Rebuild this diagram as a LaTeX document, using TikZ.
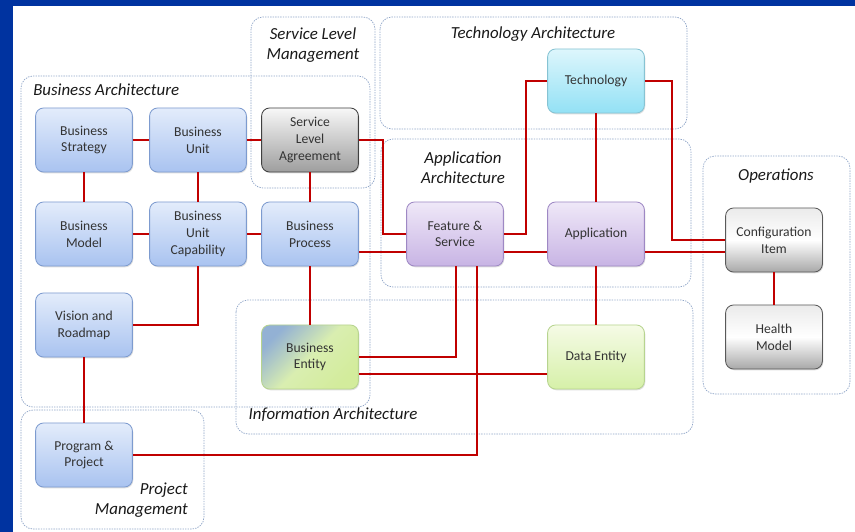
\documentclass[tikz,border=0pt]{standalone}
\usepackage{fontspec}
\setmainfont{Carlito}
\usetikzlibrary{calc,shadows}
\definecolor{slideblue}{HTML}{0033A0}
\definecolor{linkred}{HTML}{C00000}
\definecolor{arealine}{HTML}{8FA5C8}
\definecolor{biztop}{HTML}{E3ECFB}
\definecolor{bizbot}{HTML}{A9C3F0}
\definecolor{bizline}{HTML}{7D9BCF}
\definecolor{apptop}{HTML}{EFE8F8}
\definecolor{appbot}{HTML}{C8B4E4}
\definecolor{appline}{HTML}{9E88C4}
\definecolor{techtop}{HTML}{DDF6FC}
\definecolor{techbot}{HTML}{93E1F5}
\definecolor{techline}{HTML}{86C3D3}
\definecolor{datatop}{HTML}{F5FBE6}
\definecolor{databot}{HTML}{D6F0A8}
\definecolor{dataline}{HTML}{B7D48F}
\definecolor{enttop}{HTML}{93B1D4}
\definecolor{entmid}{HTML}{D9EEB0}
\definecolor{entbot}{HTML}{D3EC9C}
\tikzset{
    box/.style={
    rectangle,rounded corners=0.2cm,minimum width=2.42cm,minimum height=1.6cm,
    inner sep=1pt,align=center,text=black!80,line width=0.6pt,
    font=\fontsize{9.7}{11.9}\selectfont,
    drop shadow={shadow xshift=0.6pt,shadow yshift=-0.9pt,opacity=0.25}
    },
    bizbox/.style={
    box,draw=bizline,top color=biztop,bottom color=bizbot
    },
    slabox/.style={
    box,draw=black!75,top color=black!3,bottom color=black!38
    },
    opsbox/.style={
    box,draw=black!65,top color=black!8,bottom color=black!34,middle color=white
    },
    techbox/.style={
    box,draw=techline,top color=techtop,bottom color=techbot
    },
    appbox/.style={
    box,draw=appline,top color=apptop,bottom color=appbot
    },
    databox/.style={
    box,draw=dataline,top color=datatop,bottom color=databot
    },
    entbox/.style={
    box,draw=dataline,top color=enttop,bottom color=entbot,middle color=entmid,shading angle=45
    },
    area/.style={
    draw=arealine,line width=0.5pt,dash pattern=on 1pt off 0.8pt,rounded corners=0.3cm
    },
    areatitle/.style={
    font=\fontsize{12}{14.4}\selectfont\itshape,text=black!90,align=center,inner sep=0pt
    },
    link/.style={
    draw=linkred,line width=1.7pt
    },
}
\begin{document}
\begin{tikzpicture}[x=0.025cm,y=-0.025cm]
   \fill[slideblue] (0,0) rectangle (855,532);
   \fill[white] (13,6) rectangle (855,532);

   % areas
   \draw[area] (251,17) rectangle (375,188);
   \draw[area] (21,76) rectangle (370,407);
   \draw[area] (380,17) rectangle (687,129);
   \draw[area] (381,139) rectangle (691,287);
   \draw[area] (703,156) rectangle (850,394);
   \draw[area] (236,300) rectangle (693,434);
   \draw[area] (21,410) rectangle (204,529);

   \node[areatitle] (slmt) at (313,45) {Service Level\\Management};
   \node[areatitle,anchor=west] (bat) at (33,90) {Business Architecture};
   \node[areatitle] (tat) at (533,34) {Technology Architecture};
   \node[areatitle] (aat) at (463,168) {Application\\Architecture};
   \node[areatitle] (opst) at (776,176) {Operations};
   \node[areatitle] (iat) at (333,415) {Information Architecture};
   \node[areatitle,anchor=east,align=right] (pmt) at (188,500) {Project\\Management};

   \node[bizbox] (bs) at (84,140) {Business\\Strategy};
   \node[bizbox] (bu) at (198,140) {Business\\Unit};
   \node[slabox] (sla) at (310,140) {Service\\Level\\Agreement};
   \node[bizbox] (bm) at (84,234) {Business\\Model};
   \node[bizbox] (buc) at (198,234) {Business\\Unit\\Capability};
   \node[bizbox] (bp) at (310,234) {Business\\Process};
   \node[bizbox] (vision) at (84,325) {Vision and\\Roadmap};
   \node[bizbox] (prog) at (84,455) {Program \&\\Project};
   \node[entbox] (be) at (310,357) {Business\\Entity};
   \node[appbox] (fs) at (455,234) {Feature \&\\Service};
   \node[appbox] (app) at (596,234) {Application};
   \node[techbox] (tech) at (596,81) {Technology};
   \node[databox] (de) at (596,357) {Data Entity};
   \node[opsbox] (ci) at (774,240) {Configuration\\Item};
   \node[opsbox] (hm) at (774,337) {Health\\Model};

  \path[link]
    (bs) edge (bu)
         edge (bm)
    (bu) edge (sla)
         edge (buc)
    (sla) edge (bp)
    (bm) edge (buc)
    (buc) edge (bp)
    (vision) edge (prog)
    (bp) edge (be)
    (tech) edge (app)
    (app) edge (de)
    (ci) edge (hm);

  \draw[link] (buc) |- (vision);
  \draw[link] (sla.east) -- ++(24,0) |- (fs.west);
  \draw[link] ($(bp.east)+(0,18)$) -- ($(fs.west)+(0,18)$);
  \draw[link] ($(fs.east)+(0,18)$) -- ($(app.west)+(0,18)$);
  \draw[link] (fs.east) -- ++(22,0) |- (tech.west);
  \draw[link] (tech.east) -- ++(27,0) |- (ci.west);
  \draw[link] ($(app.east)+(0,18)$) -- ($(ci.west)+(0,12)$);
  \draw[link] ($(fs.south)+(1,0)$) |- (be.east);
  \draw[link] ($(fs.south)+(22,0)$) |- (prog.east);
  \draw[link] ($(be.east)+(0,17)$) -- ($(de.west)+(0,17)$);
\end{tikzpicture}
\end{document}
